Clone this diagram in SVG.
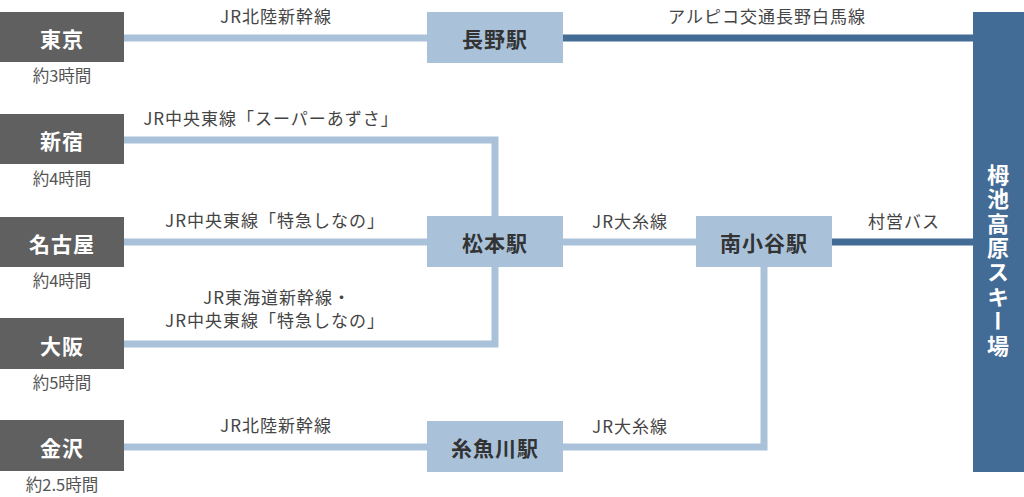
<svg xmlns="http://www.w3.org/2000/svg" width="1024" height="497" viewBox="0 0 1024 497">
<style>
text{font-family:"Noto Sans CJK JP","Noto Sans",sans-serif;dominant-baseline:central;text-anchor:middle}
.city rect{fill:#606060}
.city text.n{fill:#fff;font-weight:bold;font-size:21px;letter-spacing:1px}
.city text.t{fill:#555;font-size:16.5px}
.stn rect{fill:#a9c2da}
.stn text{fill:#333;font-weight:bold;font-size:21px;letter-spacing:1px}
.lbl{fill:#444;font-size:17px;letter-spacing:1px}
.lt{fill:none;stroke:#a9c2da;stroke-width:7}
.dk{fill:none;stroke:#426b95;stroke-width:7}
</style>
<rect width="1024" height="497" fill="#fff"/>
<g id="connectors">
<line class="lt" x1="124" y1="38" x2="427" y2="38"/>
<line class="dk" x1="563" y1="38" x2="973" y2="38"/>
<polyline class="lt" points="124,140 495,140 495,344 124,344"/>
<line class="lt" x1="124" y1="242" x2="427" y2="242"/>
<line class="lt" x1="563" y1="242" x2="696" y2="242"/>
<line class="dk" x1="832" y1="242" x2="973" y2="242"/>
<line class="lt" x1="124" y1="447" x2="427" y2="447"/>
<polyline class="lt" points="563,447 764,447 764,267"/>
</g>
<g id="labels">
<text class="lbl" x="276" y="15">JR北陸新幹線</text>
<text class="lbl" x="767" y="15">アルピコ交通長野白馬線</text>
<text class="lbl" x="271" y="117">JR中央東線「スーパーあずさ」</text>
<text class="lbl" x="275" y="219">JR中央東線「特急しなの」</text>
<text class="lbl" x="277" y="296">JR東海道新幹線・</text>
<text class="lbl" x="275" y="319">JR中央東線「特急しなの」</text>
<text class="lbl" x="276" y="424">JR北陸新幹線</text>
<text class="lbl" x="630" y="220">JR大糸線</text>
<text class="lbl" x="630" y="425">JR大糸線</text>
<text class="lbl" x="904" y="220">村営バス</text>
</g>
<g id="tokyo" class="city"><rect x="0" y="12" width="124" height="50"/><text class="n" x="62" y="38">東京</text><text class="t" x="62" y="75">約3時間</text></g>
<g id="shinjuku" class="city"><rect x="0" y="114" width="124" height="50"/><text class="n" x="62" y="140">新宿</text><text class="t" x="62" y="178">約4時間</text></g>
<g id="nagoya" class="city"><rect x="0" y="217" width="124" height="50"/><text class="n" x="62" y="243">名古屋</text><text class="t" x="62" y="280">約4時間</text></g>
<g id="osaka" class="city"><rect x="0" y="318" width="124" height="51"/><text class="n" x="62" y="345">大阪</text><text class="t" x="62" y="382">約5時間</text></g>
<g id="kanazawa" class="city"><rect x="0" y="420" width="124" height="51"/><text class="n" x="62" y="447">金沢</text><text class="t" x="62" y="484">約2.5時間</text></g>
<g id="nagano" class="stn"><rect x="427" y="12" width="136" height="51"/><text x="495" y="38">長野駅</text></g>
<g id="matsumoto" class="stn"><rect x="427" y="216" width="136" height="51"/><text x="495" y="242">松本駅</text></g>
<g id="minamiotari" class="stn"><rect x="696" y="216" width="136" height="51"/><text x="764" y="242">南小谷駅</text></g>
<g id="itoigawa" class="stn"><rect x="427" y="421" width="136" height="51"/><text x="495" y="447">糸魚川駅</text></g>
<g id="tsugaike"><rect x="973" y="12" width="51" height="460" fill="#426b95"/><text x="998" y="261" style="writing-mode:vertical-rl;fill:#fff;font-weight:bold;font-size:22px;letter-spacing:2.4px">栂池高原スキー場</text></g>
</svg>
